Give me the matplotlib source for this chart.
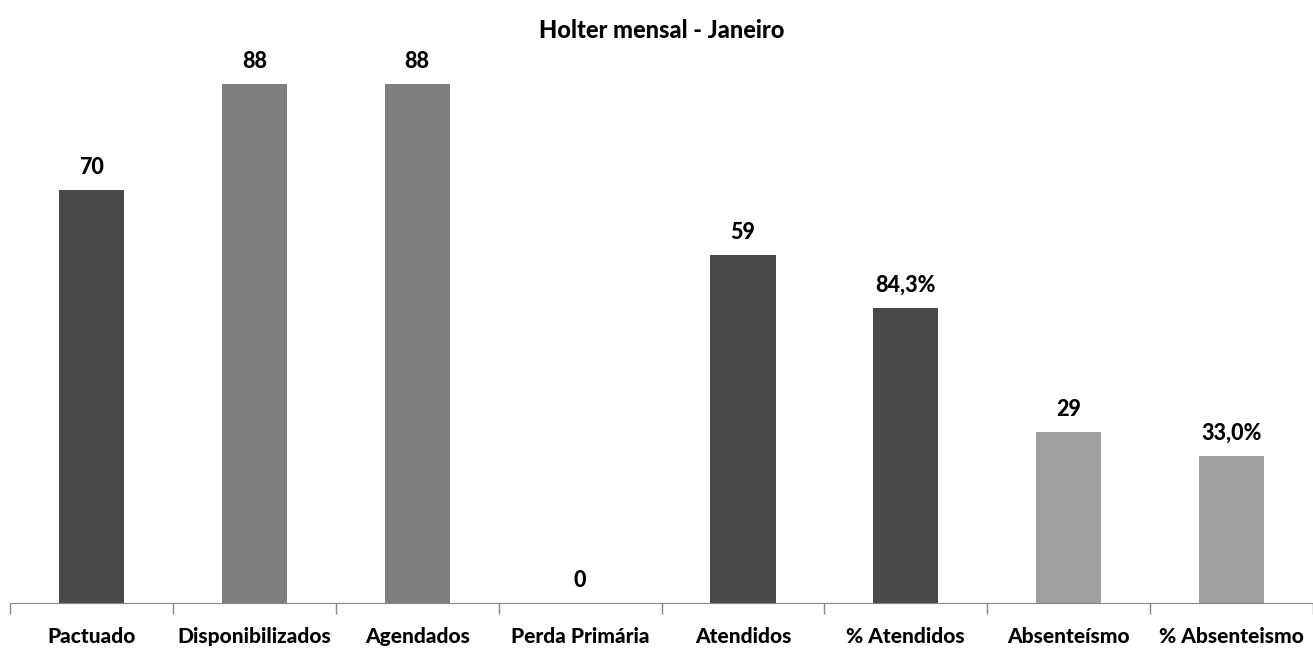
import numpy as np
import matplotlib.pyplot as plt
from matplotlib.ticker import FixedLocator

# categorias e valores
categorias = ['Pactuado', 'Disponibilizados', 'Agendados', 'Perda Primária',
              'Atendidos', '% Atendidos', 'Absenteísmo', '% Absenteismo']
alturas = [70, 88, 88, 0, 59, 50, 29, 25]
rotulos = ['70', '88', '88', '0', '59', '84,3%', '29', '33,0%']
cores = ['#494949', '#7f7f7f', '#7f7f7f', '#7f7f7f',
         '#494949', '#494949', '#a0a0a0', '#a0a0a0']

plt.rcParams['font.family'] = ['Lato', 'DejaVu Sans']

fig = plt.figure(figsize=(13.13, 6.48), dpi=100)
ax = fig.add_axes([10/1313, 1 - 603.3/648, 1 - 10/1313, (603.3 - 13.3)/648])

x = np.arange(len(categorias))
bars = ax.bar(x, alturas, width=0.4, color=cores, zorder=2)

for b, r in zip(bars, rotulos):
    ax.annotate(r, (b.get_x() + b.get_width()/2, b.get_height()),
                xytext=(0, 9), textcoords='offset points',
                ha='center', va='bottom', fontsize=15.5, fontweight='black')

ax.set_xlim(-0.5, len(categorias) - 0.5)
ax.set_ylim(0, 100)

ax.set_xticks(x)
ax.set_xticklabels(categorias, fontsize=15, fontweight='black')
ax.tick_params(axis='x', which='major', length=0, pad=17)
ax.xaxis.set_minor_locator(FixedLocator(np.arange(-0.5, len(categorias), 1)))
ax.tick_params(axis='x', which='minor', length=8, color='#868686', width=1)

ax.set_yticks([])
for s in ['top', 'right', 'left']:
    ax.spines[s].set_visible(False)
ax.spines['bottom'].set_color('#868686')

fig.text((10 + 1313) / 2 / 1313, 1 - 30/648, 'Holter mensal - Janeiro',
         ha='center', va='center', fontsize=17, fontweight='black')

fig.savefig('out.png', dpi=100)
